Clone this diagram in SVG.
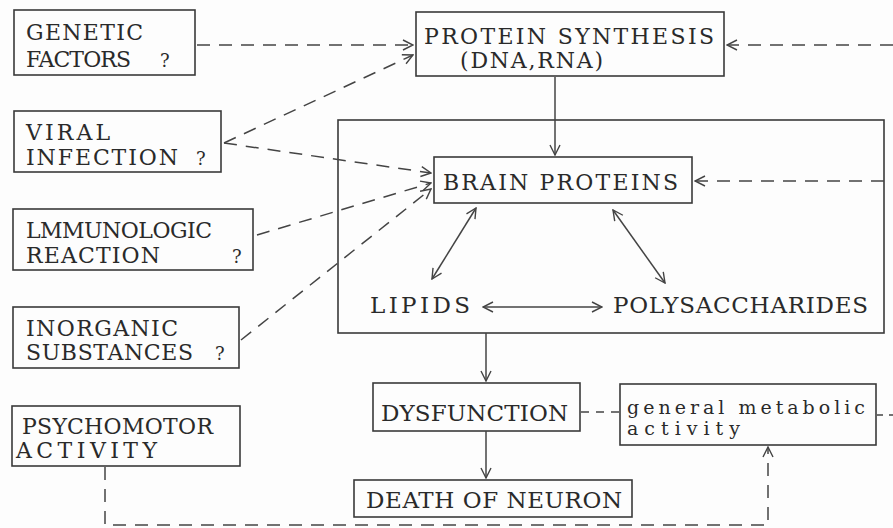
<svg xmlns="http://www.w3.org/2000/svg" width="893" height="528" viewBox="0 0 893 528">
<defs>
<style>
.box{fill:none;stroke:#3a3a3a;stroke-width:1.6}
text{font-family:"DejaVu Serif","Liberation Serif",serif;fill:#2a2a2a;font-size:22px}
.s{font-size:18px}
.m{font-size:19px}
.b{font-size:23px}
.c{fill:none;stroke:#444;stroke-width:1.5}
.d{stroke-dasharray:13,9}
</style>
<marker id="a" viewBox="0 0 12 12" refX="11" refY="6" markerWidth="12" markerHeight="12" markerUnits="userSpaceOnUse" orient="auto-start-reverse">
<path d="M1,1 L11,6 L1,11" fill="none" stroke="#444" stroke-width="1.4"/>
</marker>
</defs>
<rect width="893" height="528" fill="#fdfdfd"/>
<g id="genetic"><rect class="box" x="14" y="10" width="181" height="65"/>
<text x="26" y="40" textLength="117" lengthAdjust="spacing">GENETIC</text>
<text x="26" y="67" textLength="105" lengthAdjust="spacing">FACTORS</text><text class="s" x="160" y="67">?</text></g>
<g id="viral"><rect class="box" x="14" y="111" width="207" height="61"/>
<text x="26" y="140" textLength="84" lengthAdjust="spacing">VIRAL</text>
<text x="26" y="165" textLength="152" lengthAdjust="spacing">INFECTION</text><text class="s" x="196" y="165">?</text></g>
<g id="immuno"><rect class="box" x="13" y="209" width="240" height="61"/>
<text x="26" y="238" textLength="186" lengthAdjust="spacing">LMMUNOLOGIC</text>
<text x="26" y="263" textLength="134" lengthAdjust="spacing">REACTION</text><text class="s" x="232" y="263">?</text></g>
<g id="inorganic"><rect class="box" x="13" y="307" width="226" height="61"/>
<text x="26" y="336" textLength="152" lengthAdjust="spacing">INORGANIC</text>
<text x="26" y="360" textLength="167" lengthAdjust="spacing">SUBSTANCES</text><text class="s" x="215" y="360">?</text></g>
<g id="psycho"><rect class="box" x="12" y="406" width="228" height="60"/>
<text x="22" y="434" textLength="191" lengthAdjust="spacing">PSYCHOMOTOR</text>
<text x="16" y="458" textLength="141" lengthAdjust="spacing">ACTIVITY</text></g>
<g id="protein"><rect class="box" x="416" y="12" width="308" height="64"/>
<text x="424" y="44" textLength="290" lengthAdjust="spacing">PROTEIN SYNTHESIS</text>
<text x="460" y="68" textLength="143" lengthAdjust="spacing">(DNA,RNA)</text></g>
<g id="cell"><rect class="box" x="338" y="120" width="546" height="213"/></g>
<g id="brain"><rect class="box" x="434" y="157" width="258" height="46"/>
<text x="443" y="190" font-size="24" textLength="235" lengthAdjust="spacing">BRAIN PROTEINS</text></g>
<g id="lipids"><text class="b" x="370" y="313" textLength="100" lengthAdjust="spacing">LIPIDS</text></g>
<g id="poly"><text class="b" x="613" y="313" textLength="255" lengthAdjust="spacing">POLYSACCHARIDES</text></g>
<g id="dysfunction"><rect class="box" x="373" y="383" width="207" height="48"/>
<text class="b" x="381" y="421" textLength="187" lengthAdjust="spacing">DYSFUNCTION</text></g>
<g id="metabolic"><rect class="box" x="620" y="384" width="256" height="61"/>
<text class="m" x="627" y="414" textLength="238" lengthAdjust="spacing">general metabolic</text>
<text class="m" x="627" y="435" textLength="113" lengthAdjust="spacing">activity</text></g>
<g id="death"><rect class="box" x="354" y="480" width="278" height="37"/>
<text class="b" x="366" y="508" textLength="256" lengthAdjust="spacing">DEATH OF NEURON</text></g>
<g id="connectors">
<line class="c d" x1="197" y1="45" x2="413" y2="45" marker-end="url(#a)"/>
<line class="c d" x1="224" y1="143" x2="413" y2="55" marker-end="url(#a)"/>
<line class="c d" x1="224" y1="143" x2="431" y2="173" marker-end="url(#a)"/>
<line class="c d" x1="257" y1="235" x2="431" y2="183" marker-end="url(#a)"/>
<line class="c d" x1="241" y1="340" x2="431" y2="189" marker-end="url(#a)"/>
<line class="c d" x1="893" y1="45" x2="727" y2="45" marker-end="url(#a)"/>
<line class="c d" x1="884" y1="181" x2="695" y2="181" marker-end="url(#a)"/>
<line class="c" x1="555" y1="77" x2="555" y2="155" marker-end="url(#a)"/>
<line class="c" x1="476" y1="208" x2="432" y2="279" marker-start="url(#a)" marker-end="url(#a)"/>
<line class="c" x1="613" y1="210" x2="665" y2="283" marker-start="url(#a)" marker-end="url(#a)"/>
<line class="c" x1="483" y1="307" x2="602" y2="307" marker-start="url(#a)" marker-end="url(#a)"/>
<line class="c" x1="486" y1="333" x2="486" y2="381" marker-end="url(#a)"/>
<line class="c" x1="486" y1="431" x2="486" y2="478" marker-end="url(#a)"/>
<line class="c" x1="581" y1="412" x2="619" y2="412" stroke-dasharray="8,7"/>
<line class="c" x1="877" y1="415" x2="893" y2="415" stroke-dasharray="6,6"/>
<path class="c d" d="M105,467 V525 H768 V447" marker-end="url(#a)"/>
</g>
</svg>
